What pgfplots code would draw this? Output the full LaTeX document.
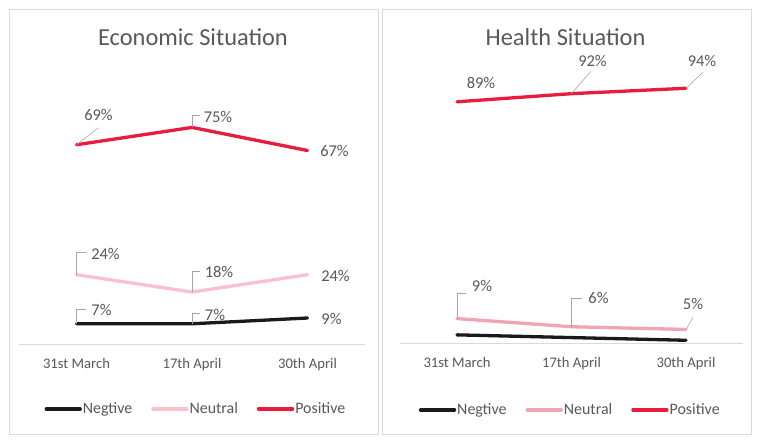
\documentclass[border=0pt]{standalone}
\usepackage{pgfplots}
\pgfplotsset{compat=1.18}
\usepackage{fontspec}
\setmainfont{Carlito}
\definecolor{txt}{HTML}{595959}
\definecolor{posc}{RGB}{232,29,62}
\definecolor{neuL}{RGB}{248,193,204}
\definecolor{neuR}{RGB}{241,164,180}
\definecolor{negc}{RGB}{26,26,26}
\definecolor{framec}{HTML}{D9D9D9}
\definecolor{lead}{HTML}{A6A6A6}
\pgfplotsset{
  panel/.style={
    scale only axis, enlargelimits=false, clip=false,
    axis x line*=bottom, axis y line=none,
    x axis line style={draw=framec, line width=0.8bp},
    xmin=-0.5, xmax=2.5, ymin=0,
    xtick={0,1,2}, xticklabels={31st March,17th April,30th April},
    major tick length=0pt, ytick=\empty,
    xticklabel style={font=\fontsize{14.7}{17}\selectfont, text=txt, yshift=-11bp},
    legend columns=3,
    legend image code/.code={\draw[#1] (0bp,0bp) -- (34bp,0bp);},
    every axis plot/.append style={line width=3.3bp, line cap=round, line join=round},
  },
}
\tikzset{ld/.style={draw=lead, line width=0.6bp},
  lbl/.style={font=\fontsize{16.5}{19}\selectfont, text=txt, inner sep=0pt}}
\begin{document}
\begin{tikzpicture}[x=1bp,y=1bp]
\path[use as bounding box, fill=white] (0,0) rectangle (761,448);
\draw[framec, line width=0.8bp] (9,14) rectangle (378,439);
\draw[framec, line width=0.8bp] (382,14) rectangle (751,439);
\node[font=\fontsize{24.5}{28}\selectfont, text=txt] at (193,411) {Economic Situation};
\node[font=\fontsize{24.5}{28}\selectfont, text=txt] at (565.5,411) {Health Situation};

\begin{axis}[panel, at={(18.75bp,104bp)}, anchor=south west,
  width=346.5bp, height=231bp, ymax=80,
  legend style={at={(0.51,-0.281)}, anchor=center, draw=none, fill=none,
    font=\fontsize{16}{19}\selectfont, text=txt, nodes={inner xsep=1bp},
    /tikz/every even column/.append style={column sep=18bp}}]
\addplot[negc] coordinates {(0,7) (1,7) (2,9)};
\addlegendentry{Negtive}
\addplot[neuL] coordinates {(0,24) (1,18) (2,24)};
\addlegendentry{Neutral}
\addplot[posc] coordinates {(0,69) (1,75) (2,67)};
\addlegendentry{Positive}
% leaders
\draw[ld] (axis cs:0,69) -- ([shift={(22bp,17bp)}]axis cs:0,69);
\draw[ld] (axis cs:1,75) -- ([shift={(0bp,12bp)}]axis cs:1,75) -- ([shift={(8bp,12bp)}]axis cs:1,75);
\draw[ld] (axis cs:0,24) -- ([shift={(0bp,22bp)}]axis cs:0,24) -- ([shift={(9bp,22bp)}]axis cs:0,24);
\draw[ld] (axis cs:1,18) -- ([shift={(0bp,21bp)}]axis cs:1,18) -- ([shift={(8bp,21bp)}]axis cs:1,18);
\draw[ld] (axis cs:0,7) -- ([shift={(0bp,14bp)}]axis cs:0,7) -- ([shift={(9bp,14bp)}]axis cs:0,7);
\draw[ld] (axis cs:1,7) -- ([shift={(0bp,10bp)}]axis cs:1,7) -- ([shift={(8bp,10bp)}]axis cs:1,7);
% labels
\node[lbl] at ([shift={(22bp,30bp)}]axis cs:0,69) {69\%};
\node[lbl] at ([shift={(26bp,10bp)}]axis cs:1,75) {75\%};
\node[lbl] at ([shift={(27bp,0bp)}]axis cs:2,67) {67\%};
\node[lbl] at ([shift={(29bp,21bp)}]axis cs:0,24) {24\%};
\node[lbl] at ([shift={(27bp,20bp)}]axis cs:1,18) {18\%};
\node[lbl] at ([shift={(28bp,-1bp)}]axis cs:2,24) {24\%};
\node[lbl] at ([shift={(25bp,14bp)}]axis cs:0,7) {7\%};
\node[lbl] at ([shift={(23bp,9bp)}]axis cs:1,7) {7\%};
\node[lbl] at ([shift={(24bp,-1bp)}]axis cs:2,9) {9\%};
\end{axis}

\begin{axis}[panel, at={(399.75bp,105bp)}, anchor=south west,
  width=343.5bp, height=271bp, ymax=100,
  legend style={at={(0.495,-0.247)}, anchor=center, draw=none, fill=none,
    font=\fontsize{16}{19}\selectfont, text=txt, nodes={inner xsep=1bp},
    /tikz/every even column/.append style={column sep=18bp}}]
\addplot[negc] coordinates {(0,3) (1,2) (2,1)};
\addlegendentry{Negtive}
\addplot[neuR] coordinates {(0,9) (1,6) (2,5)};
\addlegendentry{Neutral}
\addplot[posc] coordinates {(0,89) (1,92) (2,94)};
\addlegendentry{Positive}
\draw[ld] (axis cs:1,92) -- ([shift={(19bp,22bp)}]axis cs:1,92);
\draw[ld] (axis cs:2,94) -- ([shift={(17bp,16bp)}]axis cs:2,94);
\draw[ld] (axis cs:0,9) -- ([shift={(0bp,25bp)}]axis cs:0,9) -- ([shift={(9bp,25bp)}]axis cs:0,9);
\draw[ld] (axis cs:1,6) -- ([shift={(0bp,28bp)}]axis cs:1,6) -- ([shift={(10bp,28bp)}]axis cs:1,6);
\draw[ld] (axis cs:2,5) -- ([shift={(7bp,12bp)}]axis cs:2,5);
\node[lbl] at ([shift={(24bp,19bp)}]axis cs:0,89) {89\%};
\node[lbl] at ([shift={(21bp,33bp)}]axis cs:1,92) {92\%};
\node[lbl] at ([shift={(16bp,27bp)}]axis cs:2,94) {94\%};
\node[lbl] at ([shift={(25bp,33bp)}]axis cs:0,9) {9\%};
\node[lbl] at ([shift={(27bp,29bp)}]axis cs:1,6) {6\%};
\node[lbl] at ([shift={(7bp,25bp)}]axis cs:2,5) {5\%};
\end{axis}
\end{tikzpicture}
\end{document}
